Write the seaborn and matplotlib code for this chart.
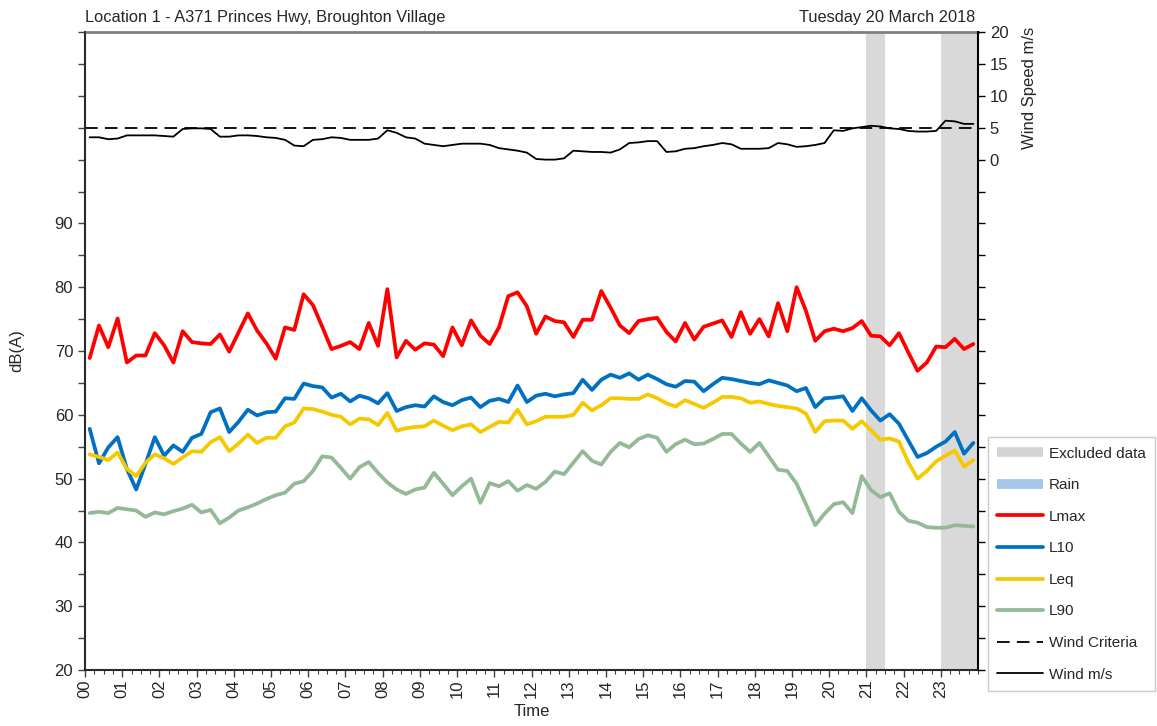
import numpy as np
import pandas as pd
import seaborn as sns
import matplotlib.pyplot as plt
from matplotlib.lines import Line2D
from matplotlib.ticker import MultipleLocator, FuncFormatter

# 15-minute periods, plotted at the middle of each period (hours)
times = np.arange(96) * 0.25 + 0.125
hour_labels = [f"{h:02d}" for h in range(24)]

lmax = [68.9, 74.0, 70.6, 75.1, 68.2, 69.3, 69.3, 72.8, 70.9, 68.2, 73.1, 71.4,
        71.2, 71.1, 72.6, 69.9, 72.9, 75.9, 73.2, 71.2, 68.8, 73.7, 73.3, 78.9,
        77.2, 73.8, 70.3, 70.8, 71.4, 70.3, 74.4, 70.8, 79.7, 69.0, 71.6, 70.2,
        71.2, 71.0, 69.2, 73.7, 70.9, 74.8, 72.4, 71.1, 73.7, 78.6, 79.2, 77.0,
        72.7, 75.4, 74.7, 74.5, 72.2, 74.9, 74.9, 79.4, 76.8, 74.0, 72.8, 74.7,
        75.0, 75.2, 73.0, 71.5, 74.4, 71.8, 73.8, 74.3, 74.8, 72.2, 76.1, 72.7,
        75.0, 72.3, 77.5, 73.1, 80.0, 76.3, 71.6, 73.1, 73.5, 73.1, 73.6, 74.7,
        72.4, 72.3, 70.9, 72.8, 69.8, 66.9, 68.2, 70.7, 70.6, 71.9, 70.3, 71.1]

l10 = [57.8, 52.4, 54.9, 56.5, 51.5, 48.3, 52.3, 56.5, 53.6, 55.2, 54.2, 56.4,
       57.0, 60.4, 61.0, 57.3, 58.9, 60.8, 59.9, 60.4, 60.5, 62.6, 62.5, 64.9,
       64.5, 64.3, 62.7, 63.3, 62.1, 63.0, 62.6, 61.8, 63.4, 60.6, 61.2, 61.5,
       61.3, 62.9, 62.0, 61.5, 62.3, 62.7, 61.2, 62.2, 62.5, 62.0, 64.6, 62.0,
       63.0, 63.3, 62.9, 63.2, 63.4, 65.5, 63.9, 65.5, 66.3, 65.8, 66.5, 65.5,
       66.3, 65.6, 64.8, 64.4, 65.3, 65.2, 63.7, 64.8, 65.8, 65.6, 65.3, 65.0,
       64.8, 65.4, 65.0, 64.6, 63.7, 64.2, 61.2, 62.6, 62.7, 62.9, 60.6, 62.6,
       60.7, 59.1, 60.1, 58.6, 56.0, 53.4, 54.0, 55.0, 55.8, 57.3, 53.9, 55.6]

leq = [53.8, 53.4, 52.9, 54.1, 51.5, 50.4, 52.5, 53.8, 53.2, 52.3, 53.3, 54.3,
       54.2, 55.7, 56.5, 54.3, 55.5, 56.9, 55.6, 56.4, 56.4, 58.2, 58.8, 61.0,
       60.9, 60.5, 60.0, 59.7, 58.5, 59.4, 59.3, 58.4, 60.3, 57.5, 57.9, 58.1,
       58.2, 59.1, 58.3, 57.6, 58.2, 58.5, 57.3, 58.1, 58.9, 58.8, 60.8, 58.5,
       59.0, 59.7, 59.7, 59.7, 60.0, 61.9, 60.7, 61.5, 62.6, 62.6, 62.5, 62.5,
       63.2, 62.6, 61.8, 61.3, 62.3, 61.7, 61.1, 61.9, 62.8, 62.8, 62.6, 61.9,
       62.1, 61.7, 61.4, 61.2, 61.0, 60.2, 57.3, 59.0, 59.1, 59.1, 57.8, 59.0,
       57.6, 56.1, 56.3, 55.8, 52.6, 50.0, 51.2, 52.7, 53.6, 54.4, 51.9, 52.9]

l90 = [44.6, 44.8, 44.6, 45.4, 45.2, 45.0, 44.0, 44.7, 44.4, 44.9, 45.3, 45.9,
       44.7, 45.1, 43.0, 43.9, 45.0, 45.5, 46.1, 46.8, 47.4, 47.8, 49.2, 49.6,
       51.2, 53.5, 53.3, 51.7, 50.0, 51.8, 52.6, 50.9, 49.4, 48.3, 47.6, 48.3,
       48.6, 50.9, 49.2, 47.4, 48.8, 50.0, 46.2, 49.3, 48.8, 49.6, 48.1, 49.0,
       48.4, 49.5, 51.1, 50.7, 52.5, 54.3, 52.8, 52.2, 54.2, 55.6, 54.9, 56.2,
       56.8, 56.4, 54.2, 55.4, 56.1, 55.4, 55.5, 56.2, 57.0, 57.0, 55.5, 54.2,
       55.6, 53.5, 51.4, 51.2, 49.2, 46.0, 42.7, 44.5, 46.0, 46.3, 44.6, 50.4,
       48.2, 47.1, 47.7, 44.8, 43.4, 43.1, 42.4, 42.3, 42.3, 42.7, 42.6, 42.5]

wind = [3.5, 3.5, 3.2, 3.3, 3.8, 3.8, 3.8, 3.8, 3.7, 3.6, 4.8, 4.9,
        4.9, 4.8, 3.6, 3.6, 3.8, 3.8, 3.7, 3.5, 3.4, 3.1, 2.2, 2.1,
        3.1, 3.2, 3.5, 3.4, 3.1, 3.1, 3.1, 3.3, 4.6, 4.2, 3.5, 3.3,
        2.5, 2.3, 2.1, 2.3, 2.5, 2.5, 2.5, 2.3, 1.8, 1.6, 1.4, 1.1,
        0.1, 0.0, 0.0, 0.2, 1.4, 1.3, 1.2, 1.2, 1.1, 1.6, 2.6, 2.7,
        2.9, 2.9, 1.2, 1.3, 1.7, 1.8, 2.1, 2.3, 2.6, 2.4, 1.7, 1.7,
        1.7, 1.8, 2.6, 2.4, 2.0, 2.1, 2.3, 2.6, 4.6, 4.5, 4.9, 5.1,
        5.3, 5.2, 4.9, 4.8, 4.5, 4.4, 4.4, 4.5, 6.1, 6.0, 5.6, 5.6]

wind_criteria = 5
excluded_periods = [(21.0, 21.5), (23.0, 24.0)]

metrics = ["Lmax", "L10", "Leq", "L90"]
colors = {"Lmax": "#ff0000", "L10": "#0070c0", "Leq": "#f5c800", "L90": "#93b996"}

df = pd.DataFrame({"time": times, "Lmax": lmax, "L10": l10, "Leq": leq, "L90": l90})
df_long = df.melt(id_vars="time", value_vars=metrics, var_name="metric", value_name="level")
df_wind = pd.DataFrame({"time": times, "wind": wind})

sns.set_theme(style="white")
plt.rcParams["font.family"] = ["Liberation Sans", "DejaVu Sans"]

fig = plt.figure(figsize=(11.57, 7.26), dpi=100)
ax = fig.add_axes([0.0735, 0.0771, 0.7718, 0.8788])

for start, end in excluded_periods:
    ax.axvspan(start, end, color="#d9d9d9", zorder=0, lw=0)

sns.lineplot(data=df_long, x="time", y="level", hue="metric", hue_order=metrics,
             palette=colors, linewidth=2.7, legend=False, estimator=None, ax=ax,
             solid_joinstyle="round", solid_capstyle="round")

ax.set_xlim(0, 24)
ax.set_ylim(20, 120)
ax.set_xticks(range(24))
ax.set_xticklabels(hour_labels, rotation=90, fontsize=12)
ax.xaxis.set_minor_locator(MultipleLocator(0.25))
ax.yaxis.set_major_locator(MultipleLocator(5))
ax.yaxis.set_major_formatter(FuncFormatter(
    lambda v, p: f"{int(v)}" if v % 10 == 0 and v <= 90 else ""))
ax.tick_params(axis="y", labelsize=12, direction="out", length=5, width=1,
               color="#404040", left=True)
ax.tick_params(axis="x", which="major", direction="out", length=5, width=1,
               color="#404040", bottom=True, pad=2)
ax.tick_params(axis="x", which="minor", direction="out", length=3, width=0.8,
               color="#404040", bottom=True)
ax.set_xlabel("Time", fontsize=12, labelpad=4)
ax.set_ylabel("dB(A)", fontsize=12, labelpad=22)

for side in ["left", "bottom"]:
    ax.spines[side].set_color("#404040")
    ax.spines[side].set_linewidth(1.5)
ax.spines["top"].set_color("#808080")
ax.spines["top"].set_linewidth(2)

ax2 = ax.twinx()
sns.lineplot(data=df_wind, x="time", y="wind", color="black", linewidth=1.3,
             estimator=None, ax=ax2, solid_joinstyle="round")
ax2.axhline(wind_criteria, color="black", linewidth=1.3, dashes=(7, 4))
ax2.set_ylim(-80, 20)
ax2.yaxis.set_major_locator(MultipleLocator(5))
ax2.yaxis.set_major_formatter(FuncFormatter(
    lambda v, p: f"{int(v)}" if v >= 0 else ""))
ax2.tick_params(axis="y", labelsize=12, direction="out", length=5, width=1,
                color="black", right=True)
ax2.set_ylabel("")
ax2.text(1.058, 0.912, "Wind Speed m/s", transform=ax2.transAxes, rotation=90,
         ha="center", va="center", fontsize=12)
ax2.spines["right"].set_color("black")
ax2.spines["right"].set_linewidth(1.5)
ax2.spines["top"].set_visible(False)
ax2.set_xlim(0, 24)

fig.text(0.0735, 0.976, "Location 1 - A371 Princes Hwy, Broughton Village",
         fontsize=11.8, ha="left", va="center")
fig.text(0.843, 0.976, "Tuesday 20 March 2018", fontsize=11.8, ha="right", va="center")

handles = [
    Line2D([], [], color="#d4d4d4", lw=7, solid_capstyle="butt"),
    Line2D([], [], color="#a6c6e8", lw=7, solid_capstyle="butt"),
    Line2D([], [], color=colors["Lmax"], lw=2.7),
    Line2D([], [], color=colors["L10"], lw=2.7),
    Line2D([], [], color=colors["Leq"], lw=2.7),
    Line2D([], [], color=colors["L90"], lw=2.7),
    Line2D([], [], color="black", lw=1.3, dashes=(7, 4)),
    Line2D([], [], color="black", lw=1.3),
]
labels = ["Excluded data", "Rain", "Lmax", "L10", "Leq", "L90", "Wind Criteria", "Wind m/s"]
leg = fig.legend(handles, labels, loc="upper left", bbox_to_anchor=(0.847, 0.408),
                 fontsize=11, frameon=True, fancybox=False, handlelength=3.0,
                 handletextpad=0.4, labelspacing=1.15, borderpad=0.6)
leg.get_frame().set_edgecolor("#bfbfbf")
leg.get_frame().set_linewidth(1)

plt.savefig("out.png", dpi=100)
plt.close()
